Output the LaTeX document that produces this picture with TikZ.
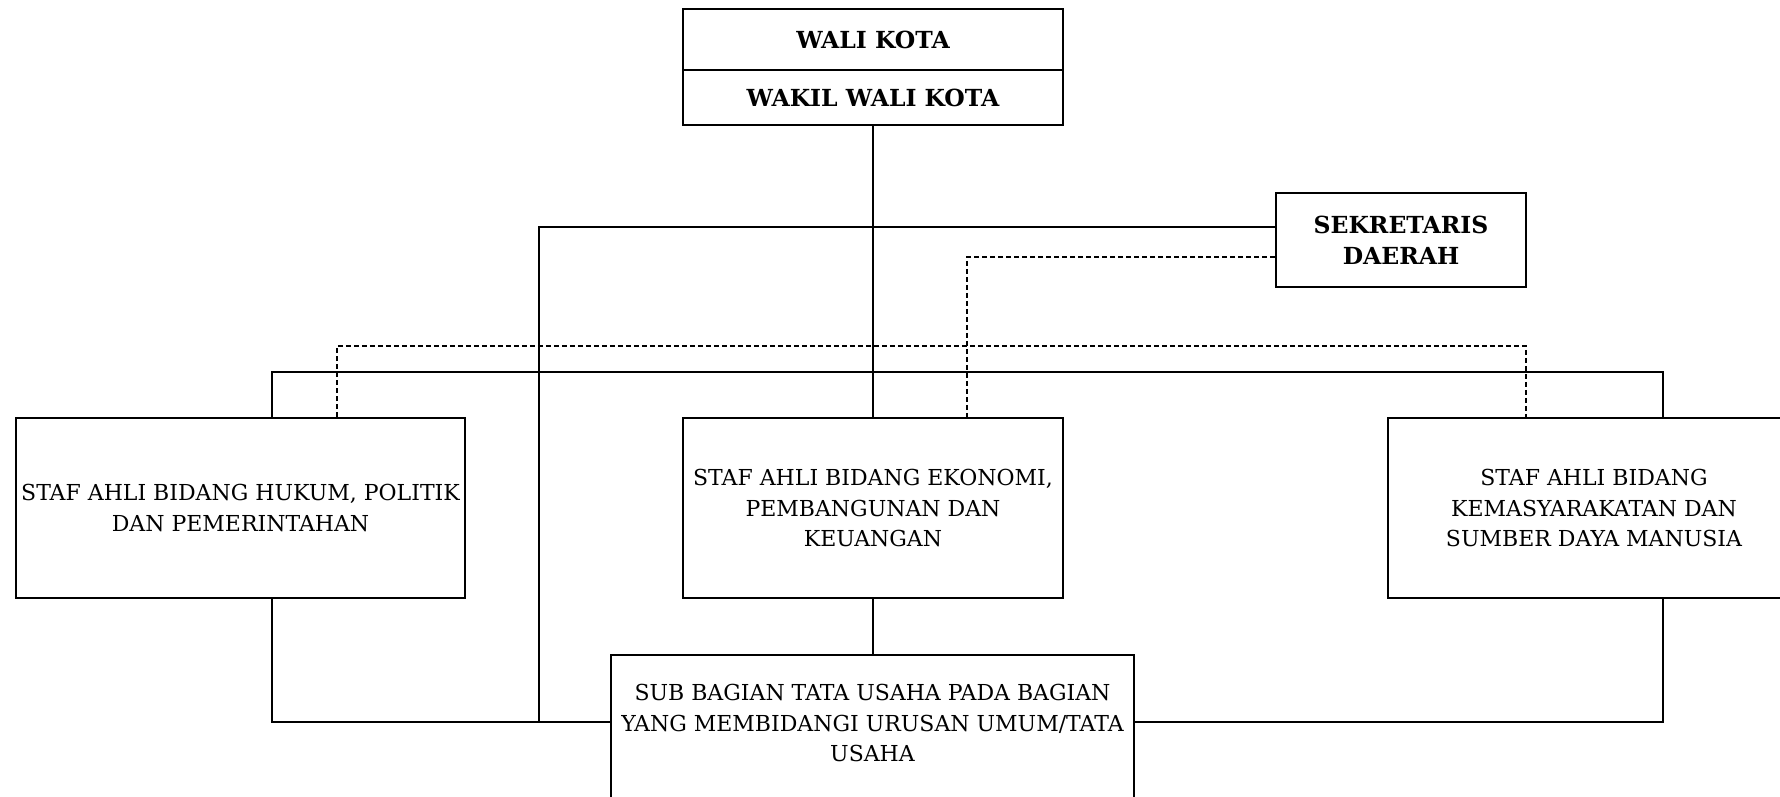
\documentclass[tikz,border=0pt]{standalone}
\usepackage{fontspec}
\setmainfont{DejaVu Serif}
\begin{document}
\begin{tikzpicture}[x=1pt,y=-1pt,
  line/.style={line width=1.6pt},
  dline/.style={line width=1.3pt,dash pattern=on 5pt off 3pt},
  box/.style={draw,line width=1.6pt,rectangle,inner sep=0pt,align=center,
    font=\fontsize{22}{30.6}\selectfont},
  bbox/.style={box,font=\fontsize{23.5}{30.6}\selectfont\bfseries}]
\useasboundingbox (0,0) rectangle (1780,796);
\clip (0,0) rectangle (1780,796);
% boxes
\node[bbox,minimum width=380pt,minimum height=61pt] (wali) at (873,39.5) {WALI KOTA};
\node[bbox,minimum width=380pt,minimum height=55pt] (wakil) at (873,97.5) {WAKIL WALI KOTA};
\node[bbox,minimum width=250pt,minimum height=94pt] (sekda) at (1401,240) {SEKRETARIS\\DAERAH};
\node[box,minimum width=449pt,minimum height=180pt] (s1) at (240.5,508) {STAF AHLI BIDANG HUKUM, POLITIK\\DAN PEMERINTAHAN};
\node[box,minimum width=380pt,minimum height=180pt] (s2) at (873,508) {STAF AHLI BIDANG EKONOMI,\\PEMBANGUNAN DAN\\KEUANGAN};
\node[box,minimum width=412pt,minimum height=180pt] (s3) at (1594,508) {STAF AHLI BIDANG\\KEMASYARAKATAN DAN\\SUMBER DAYA MANUSIA};
\node[box,minimum width=523pt,minimum height=150pt,anchor=north] (sub) at (872.5,654) {};
\node[align=center,inner sep=0pt,font=\fontsize{22}{30.6}\selectfont] (subtxt) at (872.5,723) {SUB BAGIAN TATA USAHA PADA BAGIAN\\YANG MEMBIDANGI URUSAN UMUM/TATA\\USAHA};
% coordinates
\coordinate (jL) at (272,372);
\coordinate (jR) at (1663,372);
\coordinate (bL) at (272,722);
\coordinate (bR) at (1663,722);
\coordinate (kL) at (539,227);
\coordinate (kB) at (539,722);
\coordinate (dM) at (967,257);
\coordinate (dL) at (337,346);
\coordinate (dR) at (1526,346);
% solid connectors
\draw[line] (wakil.south) -- (s2.north);
\draw[line] (s2.south) -- (sub.north -| s2.south);
\draw[line] (s1.north -| jL) -- (jL) -- (jR) -- (s3.north -| jR);
\draw[line] ([yshift=13pt]sekda.west) -- (kL) -- (kB) -- (sub.west |- kB);
\draw[line] (s1.south -| bL) -- (bL) -- (kB);
\draw[line] (s3.south -| bR) -- (bR) -- (sub.east |- bR);
% dashed connectors
\draw[dline] ([yshift=-17pt]sekda.west) -- (dM) -- (s2.north -| dM);
\draw[dline] (s1.north -| dL) -- (dL) -- (dR) -- (s3.north -| dR);
\end{tikzpicture}
\end{document}
